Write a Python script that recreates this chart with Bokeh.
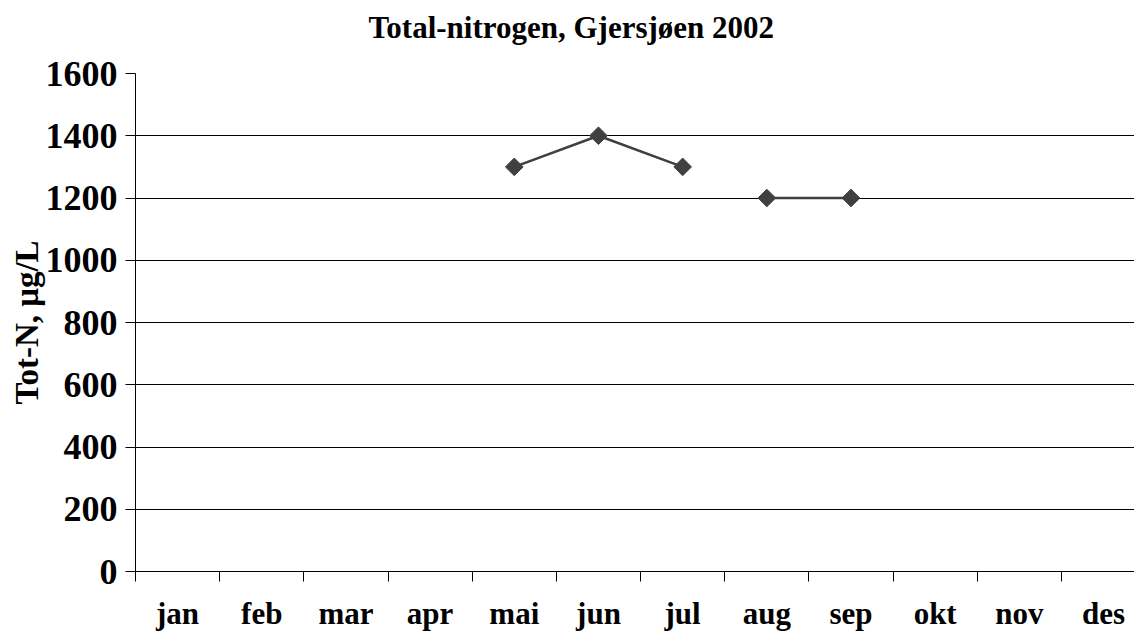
import math
from bokeh.plotting import figure
from bokeh.models import Range1d, FixedTicker, Title
from bokeh.embed import file_html
from bokeh.resources import INLINE

# ---- data ----
months = ["jan", "feb", "mar", "apr", "mai", "jun", "jul", "aug", "sep", "okt", "nov", "des"]
seg1_months = ["mai", "jun", "jul"]
seg1_values = [1300, 1400, 1300]
seg2_months = ["aug", "sep"]
seg2_values = [1200, 1200]
y_ticks = [0, 200, 400, 600, 800, 1000, 1200, 1400, 1600]
title_text = "Total-nitrogen, Gjersjøen 2002"

FONT = "Liberation Serif"
DARK = "#404040"

def xpos(ms):
    return [months.index(m) + 0.5 for m in ms]

p = figure(width=1134, height=635, output_backend="svg", toolbar_location=None,
           title=None,
           x_range=Range1d(0, 11.868), y_range=Range1d(0, 1600),
           min_border_left=135, min_border_right=0, min_border_top=73, min_border_bottom=64)
p.outline_line_color = None
p.background_fill_color = "white"
p.border_fill_color = "white"

# spacer between frame and title, then the title itself (stacked outward)
p.add_layout(Title(text=" ", text_font_size="1px", standoff=26), "above")
p.add_layout(Title(text=title_text, text_font=FONT, text_font_style="bold",
                   text_font_size="31px", text_color="black", align="left",
                   offset=233, standoff=0, vertical_align="bottom"), "above")

# y axis
p.yaxis.ticker = FixedTicker(ticks=y_ticks)
p.yaxis.major_tick_out = 10
p.yaxis.major_tick_in = 0
p.yaxis.minor_tick_out = 0
p.yaxis.minor_tick_in = 0
p.yaxis.major_label_standoff = 8
p.yaxis.major_label_text_font = FONT
p.yaxis.major_label_text_font_style = "bold"
p.yaxis.major_label_text_font_size = "36px"
p.yaxis.major_label_text_color = "black"
p.yaxis.axis_line_color = "black"
p.yaxis.major_tick_line_color = "black"
p.yaxis.axis_label = "Tot-N, μg/L"
p.yaxis.axis_label_text_font = FONT
p.yaxis.axis_label_text_font_style = "bold"
p.yaxis.axis_label_text_font_size = "33px"
p.yaxis.axis_label_text_color = "black"
p.yaxis.axis_label_standoff = -2

# x axis: labels at category centers, boundary ticks as minor ticks
centers = [i + 0.5 for i in range(len(months))]
bounds = list(range(len(months) + 1))
p.xaxis.ticker = FixedTicker(ticks=centers, minor_ticks=bounds)
p.xaxis.major_label_overrides = {c: m for c, m in zip(centers, months)}
p.xaxis.major_tick_out = 0
p.xaxis.major_tick_in = 0
p.xaxis.minor_tick_out = 10
p.xaxis.minor_tick_in = 0
p.xaxis.minor_tick_line_color = "black"
p.xaxis.axis_line_color = "black"
p.xaxis.major_label_standoff = 14
p.xaxis.major_label_text_font = FONT
p.xaxis.major_label_text_font_style = "bold"
p.xaxis.major_label_text_font_size = "31px"
p.xaxis.major_label_text_color = "black"

# grid
p.xgrid.grid_line_color = None
p.ygrid.ticker = FixedTicker(ticks=y_ticks)
p.ygrid.grid_line_color = "black"
p.ygrid.grid_line_width = 1

# series
for ms, vs in ((seg1_months, seg1_values), (seg2_months, seg2_values)):
    xs = xpos(ms)
    p.line(xs, vs, line_color=DARK, line_width=2.5)
    p.scatter(xs, vs, marker="square", angle=math.pi / 4, size=12.5,
              fill_color=DARK, line_color=DARK)

open("out.html", "w").write(file_html(p, INLINE))
